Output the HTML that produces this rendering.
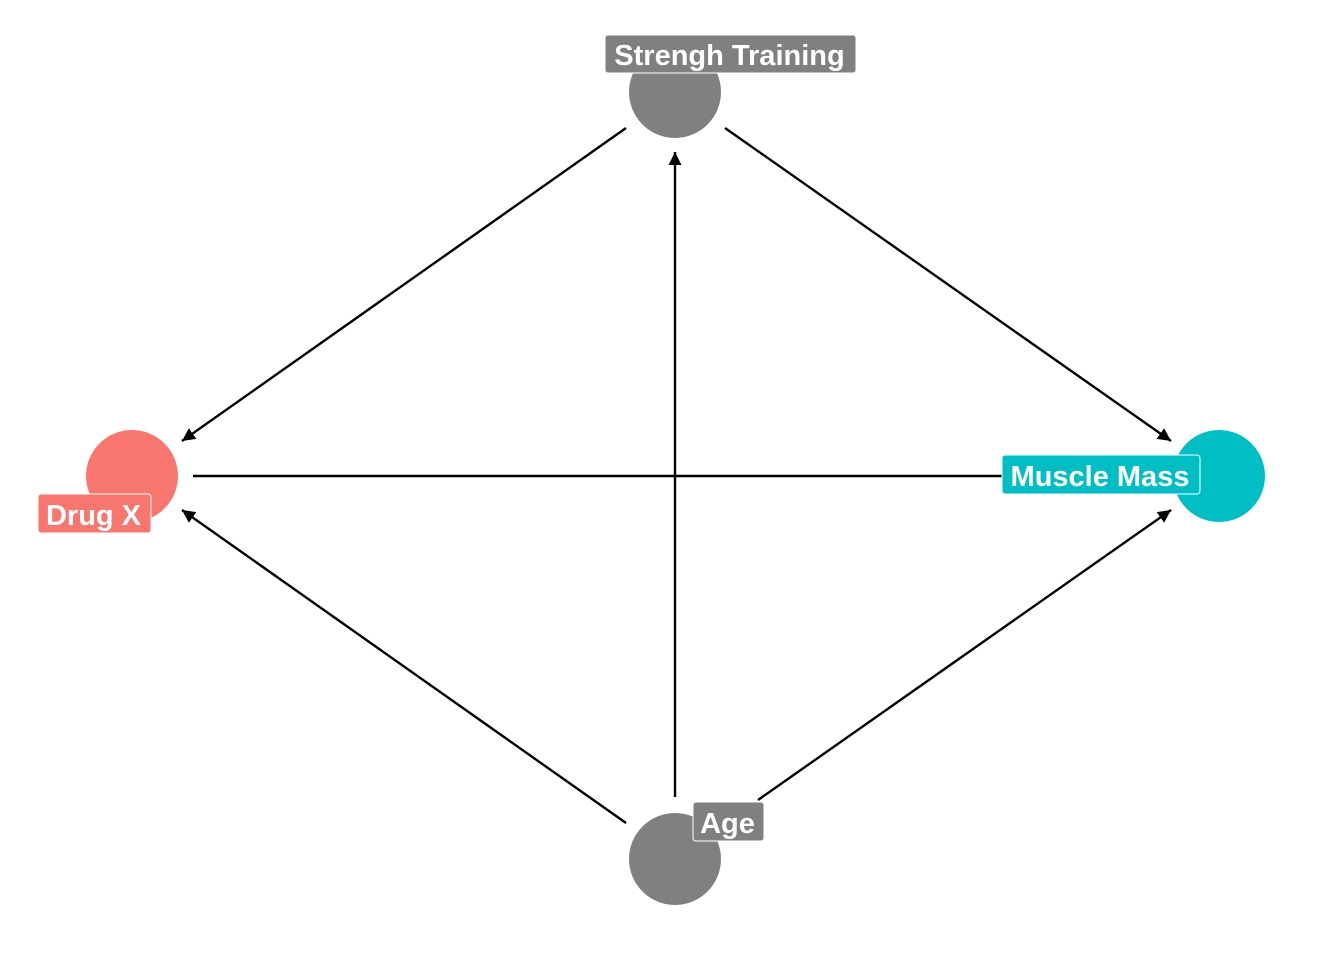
<!DOCTYPE html>
<html><head><style>html,body{margin:0;padding:0;background:#fff}svg{display:block}</style></head>
<body>
<svg width="1344" height="960" viewBox="0 0 1344 960" xmlns="http://www.w3.org/2000/svg">
<defs>
<marker id="a" viewBox="0 0 10 10" refX="10" refY="5" markerWidth="13" markerHeight="13" markerUnits="userSpaceOnUse" orient="auto">
<path d="M0,0 L10,5 L0,10 z" fill="#000"/>
</marker>
</defs>
<g stroke="#000" stroke-width="2.4" fill="none" marker-end="url(#a)">
<line x1="626" y1="128" x2="182" y2="441"/>
<line x1="725" y1="128" x2="1171" y2="441"/>
<line x1="675" y1="797" x2="675" y2="152"/>
<line x1="193" y1="476" x2="1160" y2="476"/>
<line x1="626" y1="823" x2="182" y2="510"/>
<line x1="758" y1="800" x2="1171" y2="510"/>
</g>
<circle cx="675" cy="92" r="46" fill="#808080"/>
<circle cx="675" cy="859" r="46" fill="#808080"/>
<circle cx="132" cy="476" r="46" fill="#F8766D"/>
<circle cx="1219" cy="476" r="46" fill="#00BFC4"/>
<g font-family="Liberation Sans, sans-serif" font-weight="bold" font-size="29" fill="#fff">
<rect x="605" y="35" width="251" height="38" rx="3" fill="#808080" stroke="#fff" stroke-width="1"/>
<text x="729.5" y="65" text-anchor="middle">Strengh Training</text>
<rect x="38" y="494" width="113" height="39" rx="3" fill="#F8766D" stroke="#fff" stroke-width="1"/>
<text x="93.5" y="525" text-anchor="middle">Drug X</text>
<rect x="1002" y="455" width="198" height="39" rx="3" fill="#00BFC4" stroke="#fff" stroke-width="1"/>
<text x="1100" y="486" text-anchor="middle">Muscle Mass</text>
<rect x="693" y="802" width="71" height="39" rx="3" fill="#808080" stroke="#fff" stroke-width="1"/>
<text x="727.5" y="833" text-anchor="middle">Age</text>
</g>
</svg>
</body></html>
